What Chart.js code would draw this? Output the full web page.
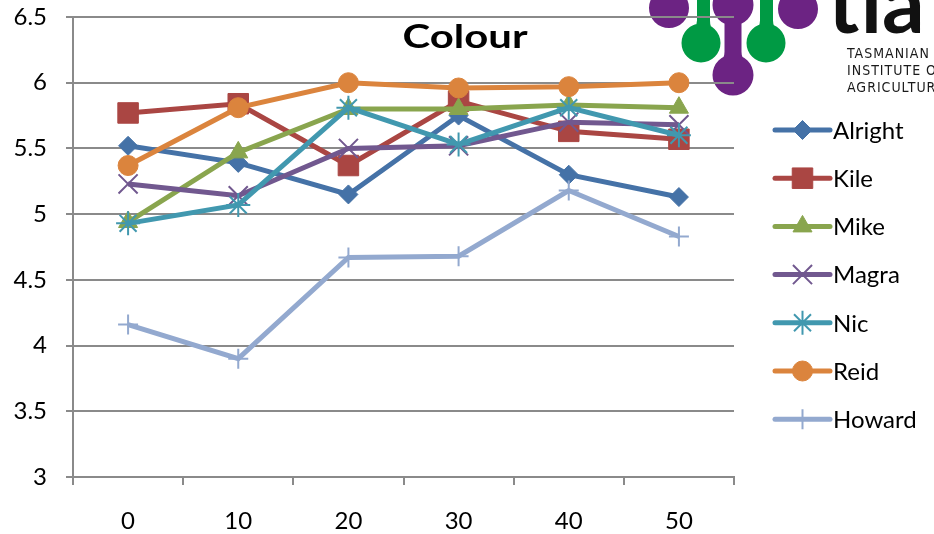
<!DOCTYPE html>
<html>
<head>
<meta charset="utf-8">
<script src="https://cdn.jsdelivr.net/npm/chart.js@4/dist/chart.umd.min.js"></script>
<style>
  html, body { margin: 0; padding: 0; background: #fff; }
  canvas { display: block; }
</style>
</head>
<body>
<canvas id="chart" width="934" height="534"></canvas>
<script>
// Sampling day categories
const days = ['0', '10', '20', '30', '40', '50'];
// Y-axis tick labels
const yTickLabels = ['3', '3.5', '4', '4.5', '5', '5.5', '6', '6.5'];

// Colour scores per assessor
const alright = [5.52, 5.39, 5.15, 5.75, 5.30, 5.13];
const kile    = [5.77, 5.84, 5.37, 5.86, 5.63, 5.57];
const mike    = [4.94, 5.47, 5.80, 5.80, 5.83, 5.81];
const magra   = [5.23, 5.14, 5.50, 5.52, 5.70, 5.68];
const nic     = [4.93, 5.07, 5.81, 5.53, 5.81, 5.60];
const reid    = [5.37, 5.81, 6.00, 5.96, 5.97, 6.00];
const howard  = [4.16, 3.90, 4.67, 4.68, 5.18, 4.83];

const FONT = 'Lato, "Liberation Sans", sans-serif';

function series(label, data, color, pointStyle, radius, markerLine) {
  return {
    label, data,
    borderColor: color,
    backgroundColor: color,
    borderWidth: 5,
    tension: 0,
    pointStyle,
    pointRadius: radius,
    pointHoverRadius: radius,
    pointBackgroundColor: color,
    pointBorderColor: color,
    pointBorderWidth: markerLine,
  };
}

const datasets = [
  series('Alright', alright, '#4572A7', 'rectRot', 9.5, 1),
  series('Kile',    kile,    '#AA4643', 'rect', 14.5, 1),
  series('Mike',    mike,    '#89A54E', 'triangle', 11, 1),
  series('Magra',   magra,   '#71588F', 'crossRot', 13.5, 2),
  series('Nic',     nic,     '#4198AF', 'star', 12, 2),
  series('Reid',    reid,    '#DB843D', 'circle', 10, 1),
  series('Howard',  howard,  '#93A9CF', 'cross', 10, 2),
];
// later series paint over earlier ones
datasets.forEach((d, i) => { d.order = datasets.length - i; });

// Institute logo in the top-right corner, painted beneath the plot
const logoPlugin = {
  id: 'logo',
  beforeDraw(chart) {
    const ctx = chart.ctx;
    const purple = '#6C2383';
    const green = '#009A44';
    ctx.save();
    const circ = (x, y, r) => { ctx.moveTo(x + r, y); ctx.arc(x, y, r, 0, Math.PI * 2); };
    // a stem of width w from y0 flaring into a round berry (cx, cy, r); drawn clockwise
    const drop = (sx, w, y0, cx, cy, r) => {
      const l = sx - w / 2, rt = sx + w / 2, yj = cy - r * 0.75;
      ctx.moveTo(l, y0);
      ctx.lineTo(rt, y0);
      ctx.lineTo(rt, yj - 8);
      ctx.quadraticCurveTo(rt, yj, cx + r * 0.66, yj);
      ctx.lineTo(cx - r * 0.66, yj);
      ctx.quadraticCurveTo(l, yj, l, yj - 8);
      ctx.closePath();
      circ(cx, cy, r);
    };
    // outer purple berries
    ctx.fillStyle = purple;
    ctx.beginPath(); circ(669, 8, 20); circ(798, 9, 20); ctx.fill();

    function group(color, build) {
      ctx.beginPath(); build();
      ctx.strokeStyle = '#fff'; ctx.lineWidth = 5; ctx.stroke();
      ctx.fillStyle = color; ctx.fill();
    }
    // green drops hanging from stems
    group(green, () => drop(703.5, 13, -10, 701, 43, 19.5));
    group(green, () => drop(766.5, 13, -10, 766, 43, 19.5));
    // purple central stem with top and bottom berries
    group(purple, () => { circ(733, 5, 20.5); drop(733, 17, 10, 733, 75, 20.5); });

    // word mark
    ctx.fillStyle = '#111';
    ctx.font = 'bold 84px Lato, sans-serif';
    ctx.textBaseline = 'alphabetic';
    ctx.fillText('tia', 828, 33);
    ctx.font = '14px "DejaVu Sans Condensed", sans-serif';
    ctx.letterSpacing = '1px';
    ctx.fillStyle = '#1a1a1a';
    ctx.fillText('TASMANIAN', 847, 58);
    ctx.fillText('INSTITUTE OF', 847, 75);
    ctx.fillText('AGRICULTURE', 847, 92);
    ctx.restore();
  }
};

// Title and right-hand legend
const decorPlugin = {
  id: 'decor',
  afterDraw(chart) {
    const ctx = chart.ctx;
    ctx.save();
    // title
    ctx.font = 'bold 32px ' + FONT;
    ctx.fillStyle = '#000';
    ctx.textBaseline = 'alphabetic';
    const title = 'Colour';
    const w = ctx.measureText(title).width;
    const target = 125;
    const cx = 465;
    ctx.translate(cx, 0);
    ctx.scale(target / w, 1);
    ctx.textAlign = 'center';
    ctx.fillText(title, 0, 48);
    ctx.restore();

    // legend
    ctx.save();
    const x0 = 775, x1 = 830, top = 130, step = 48.2;
    chart.data.datasets.forEach((ds, i) => {
      const y = top + i * step;
      ctx.strokeStyle = ds.borderColor;
      ctx.lineWidth = 5;
      ctx.lineCap = 'round';
      ctx.beginPath(); ctx.moveTo(x0, y); ctx.lineTo(x1, y); ctx.stroke();
      ctx.lineCap = 'butt';
      ctx.fillStyle = ds.pointBackgroundColor;
      ctx.strokeStyle = ds.pointBorderColor;
      ctx.lineWidth = ds.pointBorderWidth;
      Chart.helpers.drawPoint(ctx, {
        pointStyle: ds.pointStyle, radius: ds.pointRadius, rotation: 0, borderWidth: ds.pointBorderWidth
      }, (x0 + x1) / 2, y);
      ctx.fillStyle = '#000';
      ctx.font = '24px ' + FONT;
      ctx.textBaseline = 'middle';
      ctx.textAlign = 'left';
      ctx.fillText(ds.label, 833, y + 1);
    });
    ctx.restore();
  }
};

const axisColor = '#8a8a8a';

new Chart(document.getElementById('chart'), {
  type: 'line',
  data: { labels: days, datasets },
  plugins: [logoPlugin, decorPlugin],
  options: {
    responsive: false,
    animation: false,
    events: [],
    layout: { autoPadding: false, padding: { top: 17, right: 200, left: 0, bottom: 0 } },
    plugins: { legend: { display: false }, title: { display: false }, tooltip: { enabled: false } },
    scales: {
      x: {
        type: 'category',
        offset: true,
        grid: { offset: true, drawOnChartArea: false, drawTicks: true, tickLength: 8, color: axisColor, lineWidth: 2 },
        border: { color: axisColor, width: 2 },
        ticks: { color: '#000', font: { family: FONT, size: 24 }, padding: 22, maxRotation: 0 },
        afterFit(scale) { scale.height = 57; }
      },
      y: {
        min: 3, max: 6.5,
        grid: { color: axisColor, lineWidth: 2, tickLength: 7, drawTicks: true },
        border: { color: axisColor, width: 2 },
        ticks: {
          stepSize: 0.5,
          color: '#000',
          font: { family: FONT, size: 24 },
          padding: 19,
          callback: (v, i) => yTickLabels[i]
        },
        afterFit(scale) {
          scale.width = 73;
          scale.paddingTop = 0;
          scale.paddingBottom = 0;
        }
      }
    }
  }
});
</script>
</body>
</html>
